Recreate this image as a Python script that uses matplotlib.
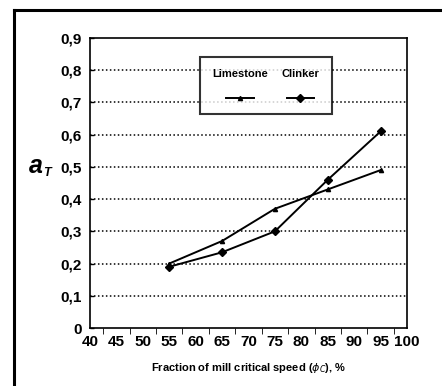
import numpy as np
import matplotlib
matplotlib.use("Agg")
import matplotlib.pyplot as plt
from matplotlib.ticker import FuncFormatter, MultipleLocator
from matplotlib.offsetbox import VPacker

plt.rcParams['font.family'] = ['Liberation Sans Narrow', 'Liberation Sans', 'DejaVu Sans']

speed = [55, 65, 75, 85, 95]
limestone = [0.20, 0.27, 0.37, 0.43, 0.49]
clinker = [0.19, 0.235, 0.30, 0.46, 0.61]
xticks = list(range(40, 101, 5))
yticks = [0, 0.1, 0.2, 0.3, 0.4, 0.5, 0.6, 0.7, 0.8, 0.9]

fig = plt.figure(figsize=(4.42, 3.86), dpi=100)
ax = fig.add_axes([90 / 442, 1 - 328 / 386, 317 / 442, 290 / 386])

# outer frame (only left and top edges show in the scan)
fig.add_artist(plt.Line2D([14 / 442, 14 / 442], [0, 1 - 10 / 386], color='black', lw=2.2))
fig.add_artist(plt.Line2D([14 / 442, 1], [1 - 10 / 386, 1 - 10 / 386], color='black', lw=2.2))

for y in yticks[1:-1]:
    ax.axhline(y, color='black', lw=1.1, ls=(0, (1.0, 1.6)), zorder=1)

ax.plot(speed, limestone, color='black', lw=1.4, marker='^', ms=3, label='Limestone', zorder=3)
ax.plot(speed, clinker, color='black', lw=1.4, marker='D', ms=4.5, label='Clinker', zorder=3)

ax.set_xlim(40, 100)
ax.set_ylim(0, 0.9)
ax.set_xticks(xticks)
ax.set_yticks(yticks)
ax.xaxis.set_minor_locator(MultipleLocator(2.5))
ax.yaxis.set_major_formatter(FuncFormatter(lambda v, p: ('%g' % round(v, 1)).replace('.', ',')))
ax.tick_params(axis='both', direction='in', labelsize=11, width=1.0)
ax.tick_params(axis='x', which='major', length=0, pad=5)
ax.tick_params(axis='x', which='minor', length=4)
ax.tick_params(axis='y', length=3, pad=6)
for lab in ax.get_xticklabels() + ax.get_yticklabels():
    lab.set_fontweight('bold')
for s in ax.spines.values():
    s.set_linewidth(1.2)

ax.set_ylabel('a', rotation=0, fontsize=18, fontweight='bold', style='italic', va='center')
ax.yaxis.set_label_coords(-0.17, 0.56)
ax.text(-0.148, 0.525, 'T', transform=ax.transAxes, fontsize=9, fontweight='bold', style='italic')
ax.set_xlabel(r'Fraction of mill critical speed ($\phi_C$), %', fontsize=8, fontweight='bold', labelpad=9)

leg = ax.legend(ncol=2, loc='upper left', bbox_to_anchor=(0.33, 0.955), frameon=True, fancybox=False,
                edgecolor='black', fontsize=8, handlelength=2.5, columnspacing=1.2, borderpad=1.1)
leg.get_frame().set_linewidth(1.5)
for t in leg.get_texts():
    t.set_fontweight('bold')
for col in leg._legend_handle_box.get_children():
    new = []
    for item in col.get_children():
        h, t = item.get_children()
        new.append(VPacker(pad=0, sep=11, children=[t, h], align='center'))
    col._children = new

fig.savefig('out.png', dpi=100)
